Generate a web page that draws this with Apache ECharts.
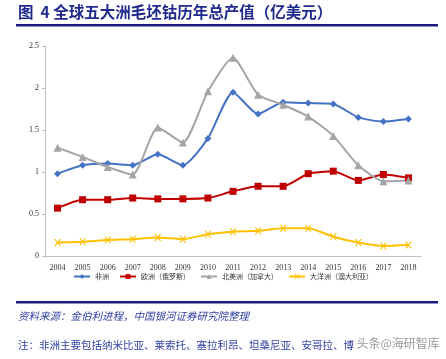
<!DOCTYPE html>
<html><head><meta charset="utf-8">
<script src="https://cdn.jsdelivr.net/npm/echarts@6/dist/echarts.min.js"></script>
<style>html,body{margin:0;padding:0;background:#fff}#c{width:446px;height:359px}</style>
</head><body><div id="c"></div>
<script>
var years = ['2004','2005','2006','2007','2008','2009','2010','2011','2012','2013','2014','2015','2016','2017','2018'];
var africa = [0.98,1.08,1.10,1.08,1.21,1.08,1.40,1.95,1.69,1.83,1.82,1.81,1.65,1.60,1.63];
var europe = [0.57,0.67,0.67,0.69,0.68,0.68,0.69,0.77,0.83,0.83,0.98,1.01,0.90,0.97,0.93];
var northAmerica = [1.29,1.18,1.06,0.97,1.53,1.35,1.96,2.36,1.92,1.80,1.66,1.43,1.08,0.89,0.90];
var oceania = [0.16,0.17,0.19,0.20,0.22,0.20,0.26,0.29,0.30,0.33,0.33,0.23,0.16,0.12,0.13];
var names = ['非洲','欧洲（俄罗斯）','北美洲（加拿大）','大洋洲（澳大利亚）'];
var yTicks = [0,0.5,1,1.5,2,2.5];

var xSym = 'path://M0,0 L2,0 L5,3 L8,0 L10,0 L6,4 L10,8 L8,8 L5,5 L2,8 L0,8 L4,4 Z';
var chart = echarts.init(document.getElementById('c'));
var serif = 'Liberation Serif';
var cjk = 'Noto Sans CJK SC';
function ser(name, data, color, symbol, size) {
  return {name:name, type:'line', data:data, smooth:0.2, symbol:symbol, symbolSize:size,
    lineStyle:{color:color, width:2}, itemStyle:{color:color}, z:3};
}
chart.setOption({
  animation:false,
  grid:{left:45, right:25, top:46, bottom:103},
  xAxis:{type:'category', data:years, boundaryGap:true,
    axisLine:{lineStyle:{color:'#bfbfbf'}}, axisTick:{show:false},
    axisLabel:{fontFamily:serif, fontSize:8, color:'#333', margin:8}},
  yAxis:{type:'value', min:0, max:2.5, interval:0.5,
    axisLine:{show:true, lineStyle:{color:'#bfbfbf'}}, axisTick:{show:true, length:3, lineStyle:{color:'#bfbfbf'}},
    splitLine:{show:false},
    axisLabel:{fontFamily:serif, fontSize:8, color:'#333', margin:6,
      formatter:function(v){return yTicks.indexOf(v)>=0?String(v):'';}}},
  legend:{bottom:74, left:'center', itemWidth:16, itemHeight:6, itemGap:10,
    textStyle:{fontFamily:cjk, fontSize:7, color:'#333'}},
  series:[
    ser(names[0], africa, '#4472C4', 'diamond', 7),
    ser(names[1], europe, '#C00000', 'rect', 7),
    ser(names[2], northAmerica, '#A5A5A5', 'triangle', 8),
    ser(names[3], oceania, '#FFC000', xSym, 7)
  ],
  graphic:[
    {type:'text', left:18, top:4, style:{text:'图  4 全球五大洲毛坯钴历年总产值（亿美元）', fontFamily:cjk, fontSize:15.5, fontWeight:'bold', fill:'#1F2A8C'}},
    {type:'rect', shape:{x:16, y:24, width:422, height:2.5}, style:{fill:'#1A1A80'}},
    {type:'rect', shape:{x:16, y:301, width:422, height:2.5}, style:{fill:'#1A1A80'}},
    {type:'text', left:18, top:311, style:{text:'资料来源：金伯利进程，中国银河证券研究院整理', fontFamily:cjk, fontSize:10.5, fontStyle:'italic', fill:'#2F3FA0'}},
    {type:'text', left:18, top:340, style:{text:'注：非洲主要包括纳米比亚、莱索托、塞拉利昂、坦桑尼亚、安哥拉、博', fontFamily:cjk, fontSize:10.5, fill:'#2F3FA0'}},
    {type:'text', left:356, top:337, style:{text:'头条@海研智库', fontFamily:cjk, fontSize:12, fill:'#9a9a9a', stroke:'#fff', lineWidth:1}}
  ]
});
</script></body></html>
